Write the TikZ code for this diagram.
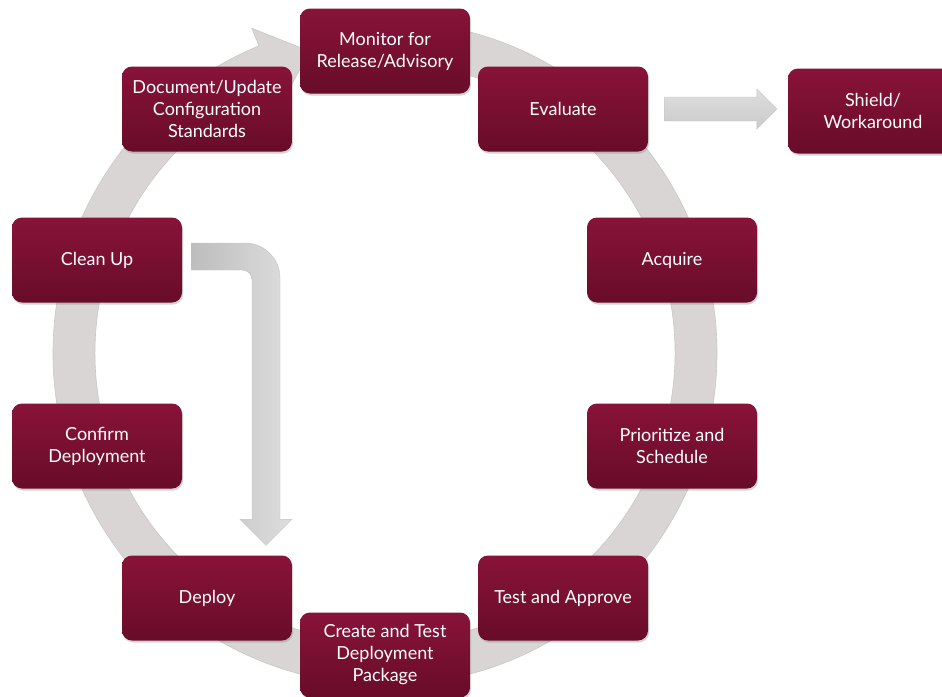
\documentclass[tikz,border=0pt]{standalone}
\usepackage{fontspec}
\setmainfont{Lato}
\usetikzlibrary{shadows,calc}
\definecolor{boxtop}{HTML}{881339}
\definecolor{boxbot}{HTML}{680C29}
\definecolor{ringgray}{HTML}{D9D5D5}
\definecolor{ringedge}{HTML}{CAC6C6}
\definecolor{arrdark}{HTML}{BDBDBD}
\definecolor{arrlight}{HTML}{DEDEDE}
\pgfdeclarelayer{background}
\pgfsetlayers{background,main}
\begin{document}
\begin{tikzpicture}[x=1pt,y=1pt,
  stage/.style={rectangle, rounded corners=10pt, minimum width=170pt, minimum height=85pt,
    top color=boxtop, bottom color=boxbot, text=white, align=center, inner sep=0pt,
    font=\fontsize{18}{22}\selectfont,
    drop shadow={opacity=0.35, shadow xshift=1pt, shadow yshift=-2pt}},
  blockarrow/.style={draw=arrdark!90, line width=0.4pt}
  ]
\useasboundingbox (0,0) rectangle (942,-696);

\node[stage] (mon) at (385,-51) {Monitor for\\Release/Advisory};
\node[stage] (eval) at (563,-109) {Evaluate};
\node[stage] (shield) at (873,-111) {Shield/\\Workaround};
\node[stage] (doc) at (207,-109) {Document/Update\\Configuration\\Standards};
\node[stage] (clean) at (97,-260) {Clean Up};
\node[stage] (acq) at (672,-260) {Acquire};
\node[stage] (conf) at (97,-446) {Confirm\\Deployment};
\node[stage] (prio) at (672,-446) {Prioritize and\\Schedule};
\node[stage] (deploy) at (207,-598) {Deploy};
\node[stage] (test) at (563,-598) {Test and Approve};
\node[stage] (create) at (385,-655) {Create and Test\\Deployment\\Package};

\begin{pgfonlayer}{background}
  % circular cycle arrow
  \begin{scope}[shift={($(mon)!0.5!(create)$)}]
    \fill[ringgray, draw=ringedge, line width=0.6pt]
      (88:332) arc[start angle=88, end angle=-247.7, radius=332]
      -- (-247.7:351) -- (-256:311) -- (-247.7:271) -- (-247.7:290)
      arc[start angle=-247.7, end angle=88, radius=290] -- cycle;
  \end{scope}
  % Evaluate -> Shield
  \coordinate (a1) at ($(eval.east)+(16,0)$);
  \coordinate (a2) at ($(eval.east -| shield.west)+(-11,0)$);
  \shade[top color=arrlight, bottom color=arrdark!80, blockarrow]
    ($(a1)+(0,12)$) -- ($(a2)+(-20,12)$) -- ($(a2)+(-20,20)$) -- (a2)
    -- ($(a2)+(-20,-20)$) -- ($(a2)+(-20,-12)$) -- ($(a1)+(0,-12)$) -- cycle;
  % Clean Up -> Deploy
  \coordinate (lstart) at ($(clean.east)+(9,3.5)$);
  \coordinate (lend) at ($(deploy.north)+(59,10)$);
  \shade[left color=arrdark, right color=arrlight, blockarrow]
    let \p1=(lstart), \p2=(lend) in
    (\x1,\y1+13.5pt) -- (\x2-21pt,\y1+13.5pt)
    arc[start angle=90, end angle=0, radius=35]
    -- (\x2+14pt,\y2+26pt) -- (\x2+26pt,\y2+26pt) -- (\x2,\y2)
    -- (\x2-26pt,\y2+26pt) -- (\x2-14pt,\y2+26pt) -- (\x2-14pt,\y1-23.5pt)
    arc[start angle=0, end angle=90, radius=10]
    -- (\x1,\y1-13.5pt) -- cycle;
\end{pgfonlayer}
\end{tikzpicture}
\end{document}
